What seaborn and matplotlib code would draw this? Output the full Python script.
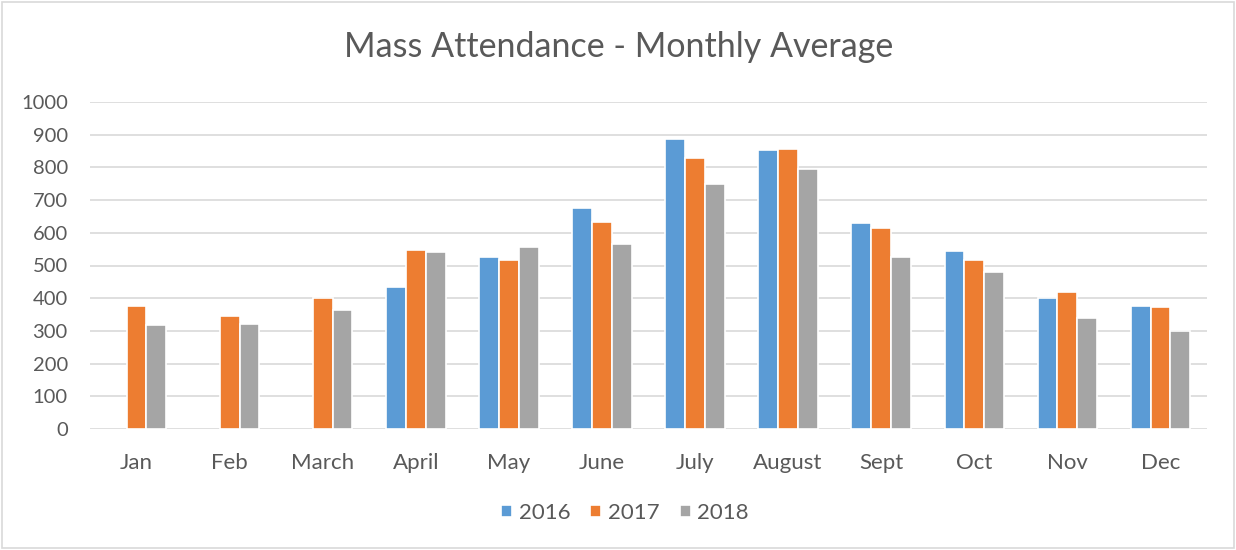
import numpy as np
import pandas as pd
import matplotlib
matplotlib.use("Agg")
import matplotlib.pyplot as plt
import seaborn as sns
from matplotlib.patches import Rectangle

months = ["Jan", "Feb", "March", "April", "May", "June", "July", "August",
          "Sept", "Oct", "Nov", "Dec"]
years = ["2016", "2017", "2018"]
v2016 = [np.nan, np.nan, np.nan, 434, 527, 677, 886, 852, 631, 545, 400, 377]
v2017 = [376, 345, 401, 548, 518, 634, 830, 857, 616, 518, 418, 372]
v2018 = [318, 322, 365, 541, 557, 567, 748, 795, 526, 481, 340, 301]
colors = ["#5B9BD5", "#ED7D31", "#A5A5A5"]
title = "Mass Attendance - Monthly Average"
yticks = [0, 100, 200, 300, 400, 500, 600, 700, 800, 900, 1000]

df = pd.DataFrame({
    "month": months * 3,
    "year": [years[0]] * 12 + [years[1]] * 12 + [years[2]] * 12,
    "value": v2016 + v2017 + v2018,
})

sns.set_theme(style="white")
plt.rcParams["font.family"] = ["Lato", "DejaVu Sans"]
text_color = "#595959"

fig = plt.figure(figsize=(12.36, 5.5), dpi=100)
ax = fig.add_axes([90 / 1236, 1 - 429 / 550, (1207 - 90) / 1236, (429 - 102) / 550])

sns.barplot(data=df, x="month", y="value", hue="year", order=months,
            hue_order=years, palette=colors, width=0.64, ax=ax,
            edgecolor="white", linewidth=1.2, saturation=1, legend=True)

ax.set_ylim(0, 1000)
ax.set_yticks(yticks)
ax.set_xlim(-0.5, len(months) - 0.5)
ax.yaxis.grid(True, color="#D9D9D9", linewidth=1.2)
ax.set_axisbelow(True)
for s in ax.spines.values():
    s.set_visible(False)
ax.set_xlabel("")
ax.set_ylabel("")
ax.tick_params(axis="both", length=0, colors=text_color)
ax.tick_params(axis="y", pad=16, labelsize=14.5)
ax.tick_params(axis="x", pad=17, labelsize=16)

fig.suptitle(title, x=619 / 1236, y=1 - 47 / 550, va="center",
             fontsize=24.5, color=text_color)

handles, labels = ax.get_legend_handles_labels()
ax.legend_.remove()
fig.legend(handles, labels, loc="center", bbox_to_anchor=(625 / 1236, 1 - 513 / 550),
           ncol=3, frameon=False, fontsize=16, labelcolor=text_color,
           handlelength=0.5, handleheight=0.5, handletextpad=0.3, columnspacing=0.9)

fig.patches.append(Rectangle((0.002, 0.003), 0.996, 0.994, transform=fig.transFigure,
                             fill=False, edgecolor="#D9D9D9", linewidth=1.2))

fig.savefig("out.png", dpi=100)
